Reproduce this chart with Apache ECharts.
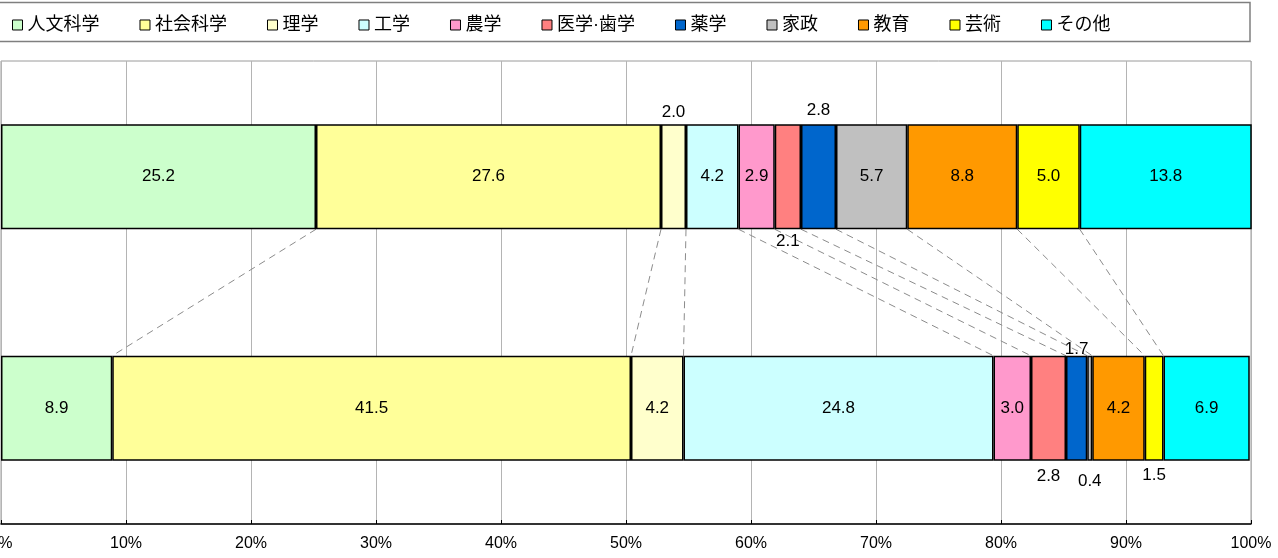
<!DOCTYPE html>
<html>
<head>
<meta charset="utf-8">
<script src="https://cdn.jsdelivr.net/npm/echarts@6/dist/echarts.min.js"></script>
<style>
  html, body { margin: 0; padding: 0; background: #ffffff; }
  #chart { width: 1278px; height: 558px; }
</style>
</head>
<body>
<div id="chart"></div>
<script>
// Fields of study (one stacked segment each)
const categories = ['人文科学', '社会科学', '理学', '工学', '農学', '医学·歯学', '薬学', '家政', '教育', '芸術', 'その他'];
// The two stacked rows (top, bottom)
const rows = ['上段', '下段'];
// Shares (%) per field
const upperValues = [25.2, 27.6, 2.0, 4.2, 2.9, 2.1, 2.8, 5.7, 8.8, 5.0, 13.8];
const lowerValues = [8.9, 41.5, 4.2, 24.8, 3.0, 2.8, 1.7, 0.4, 4.2, 1.5, 6.9];
// Axis ticks (%)
const xTicks = [0, 10, 20, 30, 40, 50, 60, 70, 80, 90, 100];

const colors = ['#CCFFCC', '#FFFF99', '#FFFFCC', '#CCFFFF', '#FF99CC', '#FF8080',
                '#0066CC', '#C0C0C0', '#FF9900', '#FFFF00', '#00FFFF'];

// Narrow segments get their value printed outside the bar
const outsideLabels = [
  { row: 0, idx: 2, position: 'top', distance: 3 },
  { row: 0, idx: 5, position: 'bottom', distance: 4 },
  { row: 0, idx: 6, position: 'top', distance: 5 },
  { row: 1, idx: 5, position: 'bottom', distance: 7 },
  { row: 1, idx: 6, position: 'top', distance: -2 },
  { row: 1, idx: 7, position: 'bottom', distance: 12 },
  { row: 1, idx: 9, position: 'bottom', distance: 6 }
];

const FONT = "'Liberation Sans', 'Noto Sans CJK JP', sans-serif";
const BAR_WIDTH = 105;

function cumulative(values) {
  const out = [];
  let s = 0;
  for (let i = 0; i < values.length - 1; i++) {
    s += values[i];
    out.push(+s.toFixed(1));
  }
  return out;
}
const upperEdges = cumulative(upperValues);
const lowerEdges = cumulative(lowerValues);
const connectorData = upperEdges.map((v, i) => [v, lowerEdges[i]]);

function cell(row, idx, value) {
  const item = { value: value };
  const o = outsideLabels.find(d => d.row === row && d.idx === idx);
  if (o) item.label = { position: o.position, distance: o.distance };
  return item;
}

const barSeries = categories.map((name, i) => ({
  name: name,
  type: 'bar',
  stack: 'total',
  barWidth: BAR_WIDTH,
  data: [cell(0, i, upperValues[i]), cell(1, i, lowerValues[i])],
  itemStyle: { color: colors[i], borderColor: '#000000', borderWidth: 1.5 },
  label: {
    show: true,
    position: 'inside',
    color: '#000000',
    fontFamily: FONT,
    fontSize: 17,
    formatter: p => Number(p.value).toFixed(1)
  },
  emphasis: { disabled: true },
  animation: false,
  z: 3
}));

// Dashed lines joining matching segment boundaries between the rows
const connectorSeries = {
  type: 'custom',
  silent: true,
  animation: false,
  z: 1,
  data: connectorData,
  renderItem: function (params, api) {
    const half = BAR_WIDTH / 2;
    const a = api.coord([api.value(0), rows[0]]);
    const b = api.coord([api.value(1), rows[1]]);
    return {
      type: 'line',
      shape: { x1: a[0], y1: a[1] + half, x2: b[0], y2: b[1] - half },
      style: { stroke: '#8c8c8c', lineWidth: 1, lineDash: [7, 5], fill: null }
    };
  }
};

const richWidths = { c2: { width: 42 }, c3: { width: 63 }, c4: { width: 84 }, c5: { width: 95 } };

const chart = echarts.init(document.getElementById('chart'), null, { renderer: 'canvas' });
chart.setOption({
  backgroundColor: '#ffffff',
  animation: false,
  color: colors,
  graphic: [{
    type: 'rect',
    shape: { x: -2, y: 2.5, width: 1252, height: 39 },
    style: { fill: '#ffffff', stroke: '#7f7f7f', lineWidth: 1.5 },
    z: 0,
    silent: true
  }],
  legend: {
    data: categories,
    left: 12,
    top: 16,
    padding: 0,
    itemWidth: 10,
    itemHeight: 10,
    itemGap: 40,
    itemTextGap: 7,
    icon: 'rect',
    itemStyle: { borderColor: '#000000', borderWidth: 1 },
    selectedMode: false,
    formatter: name => '{c' + name.length + '|' + name + '}',
    textStyle: {
      fontFamily: FONT,
      fontSize: 18,
      color: '#000000',
      rich: richWidths
    },
    z: 5
  },
  grid: {
    left: 1,
    right: 27,
    top: 61,
    bottom: 34,
    outerBoundsMode: 'none',
    containLabel: false,
    show: true,
    borderColor: '#9a9a9a',
    borderWidth: 1,
    backgroundColor: 'transparent'
  },
  xAxis: {
    type: 'value',
    min: xTicks[0],
    max: xTicks[xTicks.length - 1],
    interval: xTicks[1] - xTicks[0],
    axisLine: { show: true, lineStyle: { color: '#000000', width: 1.5 } },
    axisTick: { show: true, inside: true, length: 4, lineStyle: { color: '#000000' } },
    splitLine: { show: true, lineStyle: { color: '#b4b4b4', width: 1 } },
    axisLabel: {
      formatter: '{value}%',
      fontFamily: FONT,
      fontSize: 16,
      color: '#000000',
      margin: 12,
      showMinLabel: true,
      showMaxLabel: true
    }
  },
  yAxis: {
    type: 'category',
    data: rows,
    inverse: true,
    axisLine: { show: false },
    axisTick: { show: false },
    axisLabel: { show: false },
    splitLine: { show: false }
  },
  series: [connectorSeries].concat(barSeries)
});
</script>
</body>
</html>
